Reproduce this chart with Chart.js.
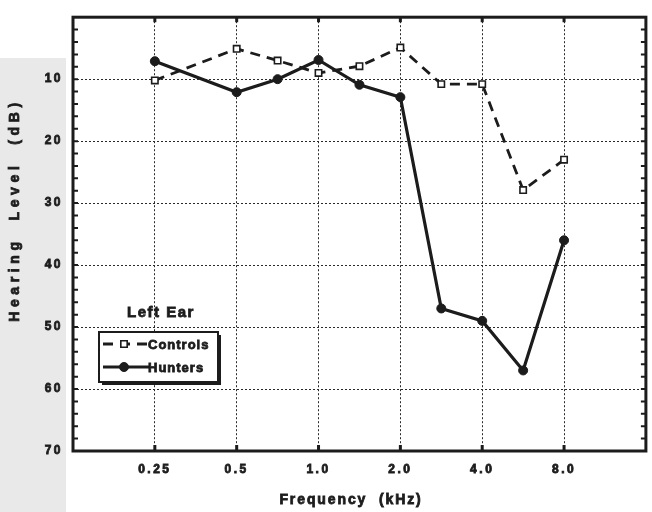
<!DOCTYPE html>
<html>
<head>
<meta charset="utf-8">
<script src="https://cdn.jsdelivr.net/npm/chart.js@4.4.1/dist/chart.umd.min.js"></script>
<style>
    html, body { margin: 0; padding: 0; background: #fff; }
    #wrap { width: 652px; height: 512px; position: relative; }
</style>
</head>
<body>
<div id="wrap"><canvas id="chartAudio"></canvas></div>
<script>
// test frequencies (kHz) and mean hearing level (dB), left ear
const freqs = [0.25, 0.5, 0.75, 1.0, 1.5, 2.0, 3.0, 4.0, 6.0, 8.0];
const controls = [10.2, 5.1, 7.0, 9.0, 7.9, 4.9, 10.8, 10.8, 27.9, 23.0];
const hunters = [7.1, 12.1, 10.0, 6.9, 10.9, 12.9, 47.0, 49.0, 57.0, 36.0];

// octave ticks on the frequency axis
const freqTicks = [0.25, 0.5, 1.0, 2.0, 4.0, 8.0];
const freqTickLabels = ["0.25", "0.5", "1.0", "2.0", "4.0", "8.0"];

const ink = "#1c1c1c";
const FONT = "'Liberation Sans', Arial, sans-serif";

// audiogram axis: one step per octave from 0.125 kHz, half-octaves halfway
const octave = (f) => {
    const k = Math.floor(Math.log2(f / 0.125) + 1e-9);
    const lo = 0.125 * Math.pow(2, k);
    return k + (f - lo) / lo;
};

const toPoints = (values) => freqs.map((f, i) => ({ x: octave(f), y: values[i] }));

// heavy "printed" text: fill plus a thin stroke
const inkText = (ctx, text, x, y) => {
    ctx.lineWidth = 0.8;
    ctx.strokeText(text, x, y);
    ctx.fillText(text, x, y);
};

// frame, small ticks, axis titles and the boxed legend
const audiogramDecor = {
    id: "audiogramDecor",
    beforeDraw(chart) {
        const ctx = chart.ctx;
        ctx.save();
        ctx.fillStyle = "#fff";
        ctx.fillRect(0, 0, chart.width, chart.height);
        ctx.fillStyle = "#e9e9e9";
        ctx.fillRect(0, 58, 66, chart.height - 58);
        ctx.restore();
        ctx.letterSpacing = "2.5px";
    },
    afterDraw(chart) {
        const ctx = chart.ctx;
        const { left, right, top, bottom } = chart.chartArea;
        const xs = chart.scales.x;
        const ys = chart.scales.y;
        ctx.save();
        ctx.strokeStyle = ink;
        ctx.fillStyle = ink;

        // small ticks every 2 dB on both sides
        ctx.lineWidth = 2;
        for (let v = 2; v < 70; v += 2) {
            const py = ys.getPixelForValue(v);
            ctx.beginPath();
            ctx.moveTo(left, py); ctx.lineTo(left + 5, py);
            ctx.moveTo(right, py); ctx.lineTo(right - 5, py);
            ctx.stroke();
        }
        // heavier ticks at octaves
        ctx.lineWidth = 3;
        freqTicks.forEach(f => {
            const px = xs.getPixelForValue(octave(f));
            ctx.beginPath();
            ctx.moveTo(px, bottom); ctx.lineTo(px, bottom - 6);
            ctx.moveTo(px, top); ctx.lineTo(px, top + 5);
            ctx.stroke();
        });

        // frame
        ctx.lineWidth = 3;
        ctx.strokeRect(left, top, right - left, bottom - top);

        // axis titles
        ctx.font = "bold 14px " + FONT;
        ctx.textAlign = "center";
        ctx.textBaseline = "middle";
        ctx.letterSpacing = "1.9px";
        inkText(ctx, "Frequency  (kHz)", 351, 500);
        ctx.save();
        ctx.translate(15, 212);
        ctx.rotate(-Math.PI / 2);
        ctx.letterSpacing = "4.6px";
        inkText(ctx, "Hearing  Level  (dB)", 2, 0);
        ctx.restore();

        // legend
        ctx.font = "bold 15px " + FONT;
        ctx.letterSpacing = "1.5px";
        inkText(ctx, "Left Ear", 161, 313);

        const bx = 99, by = 332, bw = 119, bh = 50;
        ctx.fillStyle = "#fff";
        ctx.fillRect(bx, by, bw, bh);
        ctx.fillStyle = ink;
        ctx.fillRect(bx + 3, by + bh, bw, 3);
        ctx.fillRect(bx + bw, by + 3, 3, bh);
        ctx.lineWidth = 2;
        ctx.strokeRect(bx, by, bw, bh);

        ctx.font = "bold 13px " + FONT;
        ctx.letterSpacing = "1px";
        ctx.textAlign = "left";
        chart.data.datasets.forEach((ds, i) => {
            const ly = by + 12 + i * 23;
            ctx.save();
            ctx.strokeStyle = ds.borderColor;
            ctx.lineWidth = ds.borderWidth;
            ctx.setLineDash(ds.borderDash || []);
            ctx.beginPath();
            ctx.moveTo(bx + 4, ly);
            ctx.lineTo(bx + 50, ly);
            ctx.stroke();
            ctx.restore();
            ctx.save();
            ctx.fillStyle = ds.pointBackgroundColor;
            ctx.strokeStyle = ds.pointBorderColor;
            ctx.lineWidth = ds.pointBorderWidth;
            Chart.helpers.drawPoint(ctx, {
                pointStyle: ds.pointStyle,
                radius: ds.pointRadius,
                borderWidth: ds.pointBorderWidth,
                rotation: 0
            }, bx + 25, ly);
            ctx.restore();
            inkText(ctx, ds.label, bx + 49, ly + 1);
        });
        ctx.restore();
    }
};

const tickFont = { family: FONT, size: 12, weight: "bold" };

const chartAudio = new Chart(document.getElementById("chartAudio"), {
    type: "line",
    data: {
        datasets: [
            {
                label: "Controls",
                data: toPoints(controls),
                borderColor: ink,
                borderWidth: 2.8,
                borderDash: [10, 7],
                pointStyle: "rect",
                pointRadius: 4.5,
                pointBackgroundColor: "#fff",
                pointBorderColor: ink,
                pointBorderWidth: 1.6,
                tension: 0
            },
            {
                label: "Hunters",
                data: toPoints(hunters),
                borderColor: ink,
                borderWidth: 3.2,
                borderDash: [],
                pointStyle: "circle",
                pointRadius: 4.5,
                pointBackgroundColor: ink,
                pointBorderColor: ink,
                pointBorderWidth: 1,
                tension: 0
            }
        ]
    },
    options: {
        responsive: true,
        maintainAspectRatio: false,
        animation: false,
        layout: { padding: { top: 15, right: 2, left: 0, bottom: 0 } },
        plugins: {
            legend: { display: false },
            tooltip: { enabled: false }
        },
        scales: {
            x: {
                type: "linear",
                min: 0,
                max: 7,
                afterBuildTicks: (scale) => {
                    scale.ticks = freqTicks.map(f => ({ value: octave(f) }));
                },
                afterFit: (scale) => { scale.height = 61; },
                ticks: {
                    color: ink,
                    padding: 11,
                    maxRotation: 0,
                    font: tickFont,
                    textStrokeColor: ink,
                    textStrokeWidth: 0.8,
                    callback: (value, index) => freqTickLabels[index]
                },
                grid: { color: "#2a2a2a", lineWidth: 1, drawTicks: false },
                border: { display: false, dash: [2, 2] }
            },
            y: {
                reverse: true,
                min: 0,
                max: 70,
                afterFit: (scale) => { scale.width = 73; },
                ticks: {
                    stepSize: 10,
                    color: ink,
                    padding: 10,
                    font: tickFont,
                    textStrokeColor: ink,
                    textStrokeWidth: 0.8,
                    callback: (value) => (value === 0 ? "" : value)
                },
                grid: { color: "#2a2a2a", lineWidth: 1, drawTicks: false },
                border: { display: false, dash: [2, 2] }
            }
        }
    },
    plugins: [audiogramDecor]
});
</script>
</body>
</html>
